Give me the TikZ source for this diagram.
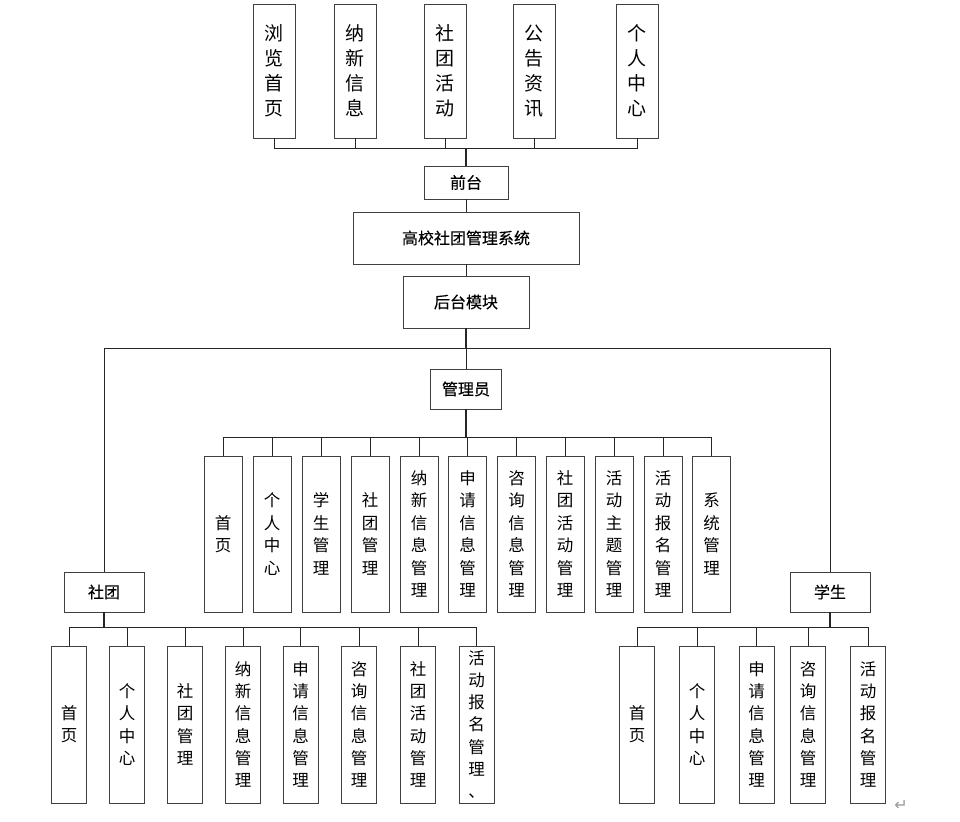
\documentclass[tikz,border=0pt]{standalone}
\usepackage{fontspec}
\setmainfont{Noto Sans CJK SC}
\newfontfamily\lblfont[FakeBold=0.3]{Noto Sans CJK SC}
\newfontfamily\symfont{DejaVu Sans}

\begin{document}
\begin{tikzpicture}[
    x=1pt, y=-1pt,
    topbox/.style={draw=black!75, line width=0.9pt, minimum width=42, minimum height=134, inner sep=0pt, align=center, font=\fontsize{19}{25}\selectfont},
    adbox/.style={draw=black!75, line width=0.9pt, minimum width=38, minimum height=156, inner sep=0pt, align=center, font=\fontsize{16.5}{22.5}\selectfont},
    subbox/.style={draw=black!75, line width=0.9pt, minimum width=35, minimum height=157, inner sep=0pt, align=center, font=\fontsize{16.5}{22.3}\selectfont},
    lbl/.style={draw=black!75, line width=0.9pt, inner sep=0pt, font=\lblfont\fontsize{16}{18}\selectfont},
    conn/.style={line width=0.9pt, black!85}
]
    \useasboundingbox (0,0) rectangle (960,821);

    % front end
    \node[topbox] (t1) at (274,71) {浏\\览\\首\\页};
    \node[topbox] (t2) at (355,71) {纳\\新\\信\\息};
    \node[topbox] (t3) at (445,71) {社\\团\\活\\动};
    \node[topbox] (t4) at (534,71) {公\\告\\资\\讯};
    \node[topbox] (t5) at (637,71) {个\\人\\中\\心};
    \coordinate (topbar) at (466,148);

    \node[lbl, minimum width=84, minimum height=33] (qt) at (466,182.5) {前台};
    \node[lbl, minimum width=226, minimum height=52] (sys) at (466,238) {高校社团管理系统};
    \node[lbl, minimum width=126, minimum height=52] (ht) at (466,302) {后台模块};
    \coordinate (hbar) at (466,348);

    \draw[conn] (t1.south) |- (topbar);
    \draw[conn] (t2.south) |- (topbar);
    \draw[conn] (t3.south) |- (topbar);
    \draw[conn] (t4.south) |- (topbar);
    \draw[conn] (t5.south) |- (topbar);
    \draw[conn, line width=1.5pt] (topbar) -- (qt.north);
    \draw[conn] (qt) -- (sys);
    \draw[conn] (sys) -- (ht);
    \draw[conn, line width=1.5pt] (ht.south) -- (hbar);

    % admin
    \node[lbl, minimum width=71, minimum height=40] (gly) at (466,389) {管理员};
    \coordinate (abar) at (466,437);
    \node[adbox] (a1) at (223,534) {首\\页};
    \node[adbox] (a2) at (272,534) {个\\人\\中\\心};
    \node[adbox] (a3) at (321,534) {学\\生\\管\\理};
    \node[adbox] (a4) at (370,534) {社\\团\\管\\理};
    \node[adbox] (a5) at (419,534) {纳\\新\\信\\息\\管\\理};
    \node[adbox] (a6) at (467.5,534) {申\\请\\信\\息\\管\\理};
    \node[adbox] (a7) at (516.5,534) {咨\\询\\信\\息\\管\\理};
    \node[adbox] (a8) at (565,534) {社\\团\\活\\动\\管\\理};
    \node[adbox] (a9) at (614,534) {活\\动\\主\\题\\管\\理};
    \node[adbox] (a10) at (663,534) {活\\动\\报\\名\\管\\理};
    \node[adbox] (a11) at (711.5,534) {系\\统\\管\\理};

    \draw[conn] (hbar) -- (gly.north);
    \draw[conn, line width=1.5pt] (gly.south) -- (abar);
    \draw[conn] (abar) -| (a1.north);
    \draw[conn] (abar) -| (a2.north);
    \draw[conn] (abar) -| (a3.north);
    \draw[conn] (abar) -| (a4.north);
    \draw[conn] (abar) -| (a5.north);
    \draw[conn] (abar) -| (a6.north);
    \draw[conn] (abar) -| (a7.north);
    \draw[conn] (abar) -| (a8.north);
    \draw[conn] (abar) -| (a9.north);
    \draw[conn] (abar) -| (a10.north);
    \draw[conn] (abar) -| (a11.north);

    % club
    \node[lbl, minimum width=80, minimum height=40] (st) at (104,592) {社团};
    \coordinate (sbar) at (104,627);
    \node[subbox] (s1) at (69,724.5) {首\\页};
    \node[subbox] (s2) at (127,724.5) {个\\人\\中\\心};
    \node[subbox] (s3) at (185,724.5) {社\\团\\管\\理};
    \node[subbox] (s4) at (243,724.5) {纳\\新\\信\\息\\管\\理};
    \node[subbox] (s5) at (300.5,724.5) {申\\请\\信\\息\\管\\理};
    \node[subbox] (s6) at (359,724.5) {咨\\询\\信\\息\\管\\理};
    \node[subbox] (s7) at (418,724.5) {社\\团\\活\\动\\管\\理};
    \node[subbox] (s8) at (476.5,724.5) {活\\动\\报\\名\\管\\理\\、};

    \draw[conn] (hbar) -| (st.north);
    \draw[conn, line width=1.5pt] (st.south) -- (sbar);
    \draw[conn] (sbar) -| (s1.north);
    \draw[conn] (sbar) -| (s2.north);
    \draw[conn] (sbar) -| (s3.north);
    \draw[conn] (sbar) -| (s4.north);
    \draw[conn] (sbar) -| (s5.north);
    \draw[conn] (sbar) -| (s6.north);
    \draw[conn] (sbar) -| (s7.north);
    \draw[conn] (sbar) -| (s8.north);

    % student
    \node[lbl, minimum width=80, minimum height=40] (xs) at (830,592) {学生};
    \coordinate (xbar) at (830,627);
    \node[subbox] (x1) at (637,724.5) {首\\页};
    \node[subbox] (x2) at (697,724.5) {个\\人\\中\\心};
    \node[subbox] (x3) at (756.5,724.5) {申\\请\\信\\息\\管\\理};
    \node[subbox] (x4) at (808,724.5) {咨\\询\\信\\息\\管\\理};
    \node[subbox] (x5) at (868,724.5) {活\\动\\报\\名\\管\\理};

    \draw[conn] (hbar) -| (xs.north);
    \draw[conn, line width=1.5pt] (xs.south) -- (xbar);
    \draw[conn] (xbar) -| (x1.north);
    \draw[conn] (xbar) -| (x2.north);
    \draw[conn] (xbar) -| (x3.north);
    \draw[conn] (xbar) -| (x4.north);
    \draw[conn] (xbar) -| (x5.north);

    \node[text=black!40, font=\symfont\fontsize{16}{16}\selectfont] (ret) at (901,805) {↵};
\end{tikzpicture}
\end{document}
